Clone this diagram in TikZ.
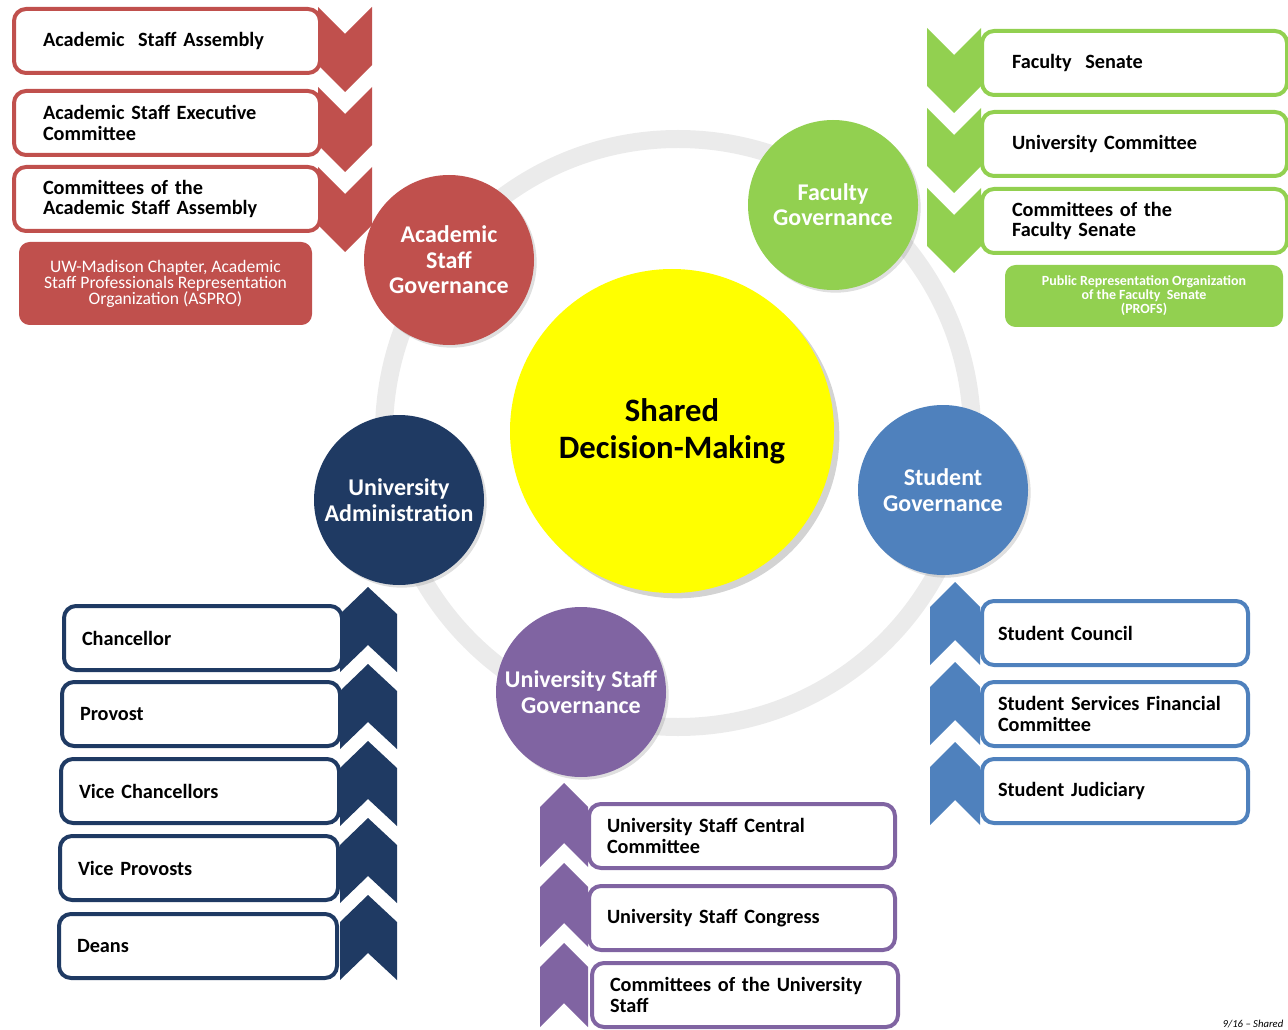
\documentclass[tikz,border=0pt]{standalone}
\usepackage{fontspec}
\setmainfont{Carlito}
\usetikzlibrary{shadows}
\definecolor{asred}{HTML}{C0504D}
\definecolor{fgreen}{HTML}{92D050}
\definecolor{uanavy}{HTML}{1F3A63}
\definecolor{sgblue}{HTML}{4F81BD}
\definecolor{uspurple}{HTML}{8064A2}
\definecolor{ringgray}{HTML}{EBEBEB}
\definecolor{hubyellow}{HTML}{FFFF00}
\begin{document}
\begin{tikzpicture}[x=0.75pt,y=-0.75pt,
  itembox/.style={draw=#1,fill=white,line width=3pt,rounded corners=9pt,anchor=north west,
    minimum height=48pt,inner ysep=0pt,align=left,font=\bfseries\fontsize{15.2}{15.5}\selectfont},
  asbox/.style={itembox=asred,text width=186pt,inner xsep=21.75pt},
  fsbox/.style={itembox=fgreen,text width=183.75pt,inner xsep=22.5pt},
  uabox/.style={itembox=uanavy,text width=181.5pt,inner xsep=13.5pt},
  sgbox/.style={itembox=sgblue,text width=175.5pt,inner xsep=12pt},
  usbox/.style={itembox=uspurple,text width=202.5pt,inner xsep=13.5pt},
  govcircle/.style={circle,fill=#1,minimum size=127.5pt,inner sep=0pt,text=white,align=center,
    font=\bfseries\fontsize{18}{19}\selectfont,
    drop shadow={shadow xshift=2pt,shadow yshift=-2pt,opacity=0.25}},
  orgbox/.style={fill=#1,rounded corners=8pt,text=white,align=center,inner sep=0pt}]
\useasboundingbox (0,0) rectangle (1288,1030);

% ring behind everything
\coordinate (hub) at (678,433);
\draw[ringgray,line width=13.5pt] (hub) circle[radius=220.5pt];

% chevrons
\foreach \t in {7,87,167}
  \fill[asred] (318,\t) -- (345,\t+27) -- (372,\t) -- (372,\t+58) -- (345,\t+85) -- (318,\t+58) -- cycle;
\foreach \t in {28,108,188}
  \fill[fgreen] (927,\t) -- (954,\t+27) -- (981,\t) -- (981,\t+58) -- (954,\t+85) -- (927,\t+58) -- cycle;
\foreach \p in {587,664,741,818,895}
  \fill[uanavy] (368,\p) -- (397,\p+27) -- (397,\p+85) -- (368,\p+58) -- (340,\p+85) -- (340,\p+27) -- cycle;
\foreach \p in {582,662,742}
  \fill[sgblue] (955,\p) -- (980,\p+25) -- (980,\p+83) -- (955,\p+58) -- (930,\p+83) -- (930,\p+25) -- cycle;
\foreach \p in {783,863,943}
  \fill[uspurple] (564,\p) -- (588,\p+24) -- (588,\p+84) -- (564,\p+60) -- (540,\p+84) -- (540,\p+24) -- cycle;

% academic staff
\node (asa) at (12,7)[asbox]{Academic~ Staff Assembly};
\node (asec) at (12,89)[asbox]{Academic Staff Executive\\Committee};
\node (ascom) at (12,165)[asbox]{Committees of the\\Academic Staff Assembly};
\node (aspro) at (165.5,283.5)[orgbox=asred,minimum width=219.75pt,minimum height=62.25pt,
  font=\fontsize{13.2}{12}\selectfont]{UW-Madison Chapter, Academic\\Staff Professionals Representation\\Organization (ASPRO)};

% faculty
\node (fsen) at (980,29)[fsbox]{Faculty~ Senate};
\node (ucom) at (980,110)[fsbox]{University Committee};
\node (fcom) at (980,187)[fsbox]{Committees of the\\Faculty Senate};
\node (profs) at (1144,296)[orgbox=fgreen,minimum width=208.5pt,minimum height=46.5pt,
  font=\bfseries\fontsize{10.5}{10.5}\selectfont]{Public Representation Organization\\of the Faculty~ Senate\\(PROFS)};

% administration
\node (chan) at (62,604)[uabox]{Chancellor};
\node (prov) at (60,680)[uabox]{Provost};
\node (vchan) at (59,757)[uabox]{Vice Chancellors};
\node (vprov) at (58,834)[uabox]{Vice Provosts};
\node (deans) at (57,912)[uabox]{Deans};

% students
\node (scoun) at (980,599)[sgbox]{Student Council};
\node (ssfc) at (980,680)[sgbox]{Student Services Financial\\Committee};
\node (sjud) at (980,757)[sgbox]{Student Judiciary};

% university staff
\node (uscc) at (587,802)[usbox]{University Staff Central\\Committee};
\node (uscon) at (587,884)[usbox]{University Staff Congress};
\node (uscom) at (590,961)[usbox]{Committees of the University\\Staff};

% circles
\node (sdm) at (672,431)[circle,fill=hubyellow,minimum size=243pt,inner sep=0pt,align=center,
  font=\bfseries\fontsize{24.5}{27.5}\selectfont,
  drop shadow={shadow xshift=4pt,shadow yshift=-4pt,opacity=0.35}]{Shared\\Decision-Making};
\node (asg) at (449,260)[govcircle=asred]{Academic\\Staff\\Governance};
\node (fg) at (833,205)[govcircle=fgreen]{Faculty\\Governance};
\node (ua) at (399,500)[govcircle=uanavy]{University\\Administration};
\node (sg) at (943,490)[govcircle=sgblue]{Student\\Governance};
\node (usg) at (581,692)[govcircle=uspurple]{University Staff\\Governance};

\begin{scope}
\clip (0,0) rectangle (1288,1030);
\node (foot) at (1218,1027)[anchor=base west,font=\itshape\fontsize{8}{8}\selectfont]{9/16 -- Shared};
\end{scope}
\end{tikzpicture}
\end{document}
